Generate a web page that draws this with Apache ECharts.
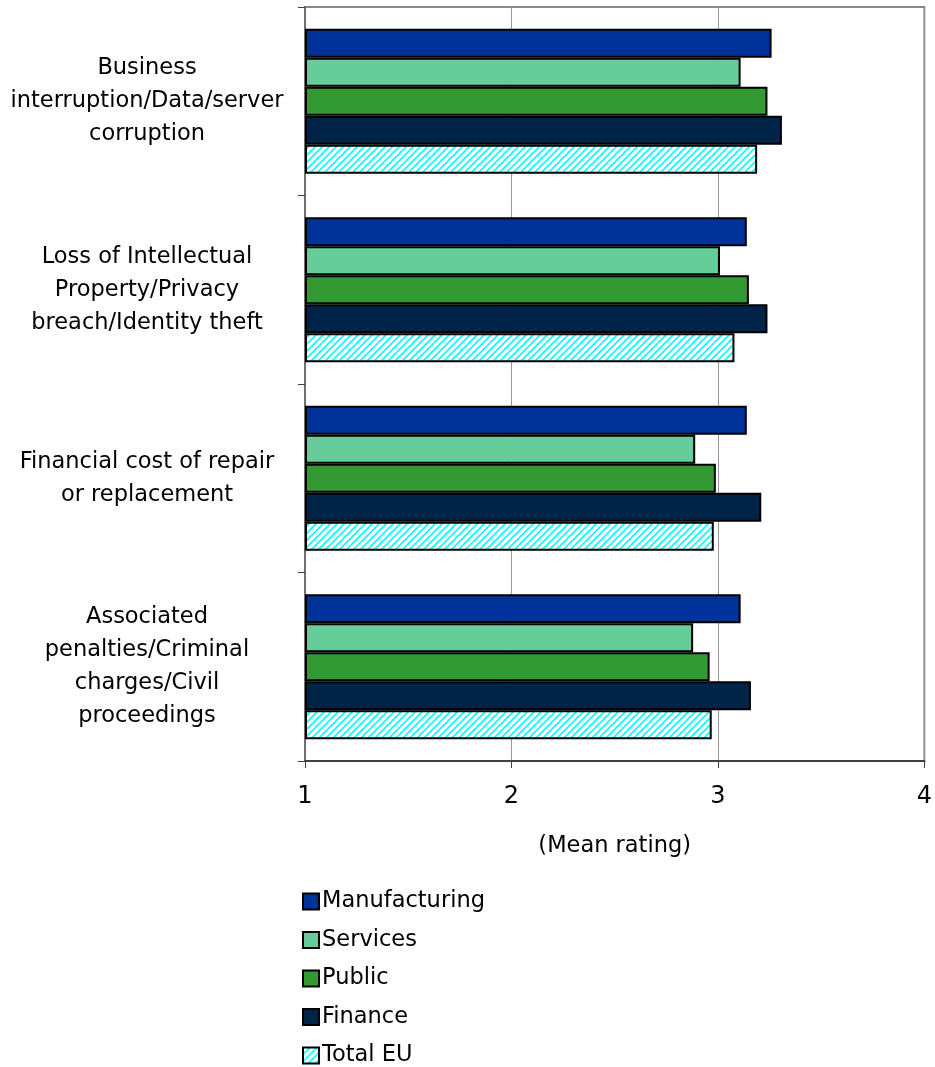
<!DOCTYPE html>
<html>
<head>
<meta charset="utf-8">
<script src="https://cdn.jsdelivr.net/npm/echarts@6/dist/echarts.min.js"></script>
<style>
html,body{margin:0;padding:0;background:#fff;}
#chart{width:935px;height:1067px;}
</style>
</head>
<body>
<div id="chart"></div>
<script>
var categories = [
  "Business\ninterruption/Data/server\ncorruption",
  "Loss of Intellectual\nProperty/Privacy\nbreach/Identity theft",
  "Financial cost of repair\nor replacement",
  "Associated\npenalties/Criminal\ncharges/Civil\nproceedings"
];
var seriesNames = ["Manufacturing", "Services", "Public", "Finance", "Total EU"];
var manufacturing = [3.26, 3.14, 3.14, 3.11];
var services = [3.11, 3.01, 2.89, 2.88];
var publicSector = [3.24, 3.15, 2.99, 2.96];
var finance = [3.31, 3.24, 3.21, 3.16];
var totalEU = [3.19, 3.08, 2.98, 2.97];
var xTicks = [1, 2, 3, 4];

// striped pattern for Total EU
var tile = document.createElement('canvas');
tile.width = 7; tile.height = 7;
var c = tile.getContext('2d');
c.fillStyle = '#ffffff';
c.fillRect(0, 0, 7, 7);
c.strokeStyle = '#00ffff';
c.lineWidth = 1.6;
c.beginPath();
c.moveTo(-1, 8); c.lineTo(8, -1);
c.moveTo(-4.5, 4.5); c.lineTo(4.5, -4.5);
c.moveTo(2.5, 11.5); c.lineTo(11.5, 2.5);
c.stroke();
var stripe = { image: tile, repeat: 'repeat' };

var colors = ['#003399', '#66cc99', '#339933', '#002448', stripe];
var values = [manufacturing, services, publicSector, finance, totalEU];
var FONT = 'DejaVu Sans';

var series = seriesNames.map(function (n, i) {
  return {
    name: n,
    type: 'bar',
    data: values[i],
    barGap: '0%',
    barCategoryGap: '23%',
    clip: true,
    itemStyle: { color: colors[i], borderColor: '#000', borderWidth: 2 }
  };
});

var chart = echarts.init(document.getElementById('chart'), null, { renderer: 'canvas' });
chart.setOption({
  animation: false,
  backgroundColor: '#fff',
  textStyle: { fontFamily: FONT },
  grid: {
    left: 305, right: 7, top: 7, bottom: 306,
    show: true, borderColor: '#888888', borderWidth: 2, backgroundColor: '#fff'
  },
  legend: {
    orient: 'vertical',
    left: 297, top: 885,
    height: 200,
    icon: 'rect',
    itemWidth: 16, itemHeight: 16, itemGap: 16.5,
    textStyle: { fontFamily: FONT, fontSize: 22.5, color: '#000', lineHeight: 22, padding: [0, 0, 0, -2] },
    data: seriesNames
  },
  xAxis: {
    type: 'value',
    min: xTicks[0], max: xTicks[xTicks.length - 1], interval: 1,
    startValue: 1,
    name: '(Mean rating)',
    nameLocation: 'middle',
    nameGap: 74,
    nameTextStyle: { fontFamily: FONT, fontSize: 22.5, color: '#000' },
    axisLine: { show: true, lineStyle: { color: '#404040', width: 2 } },
    axisTick: { show: true, length: 7, lineStyle: { color: '#404040', width: 1 } },
    axisLabel: { fontFamily: FONT, fontSize: 24, color: '#000', margin: 24 },
    splitLine: { show: true, lineStyle: { color: '#9a9a9a', width: 1 } }
  },
  yAxis: {
    type: 'category',
    inverse: true,
    data: categories,
    axisLine: { show: true, lineStyle: { color: '#707070', width: 2 } },
    axisTick: { show: true, length: 7, alignWithLabel: false, lineStyle: { color: '#404040', width: 1 } },
    axisLabel: {
      fontFamily: FONT, fontSize: 22.5, color: '#000',
      align: 'center', margin: 158, lineHeight: 33
    },
    splitLine: { show: false }
  },
  series: series.map(function (s) { return s; })
});
// tighten legend spacing to match reference (~38.5px per row)
chart.setOption({ legend: { itemGap: 15.5 } });
</script>
</body>
</html>
